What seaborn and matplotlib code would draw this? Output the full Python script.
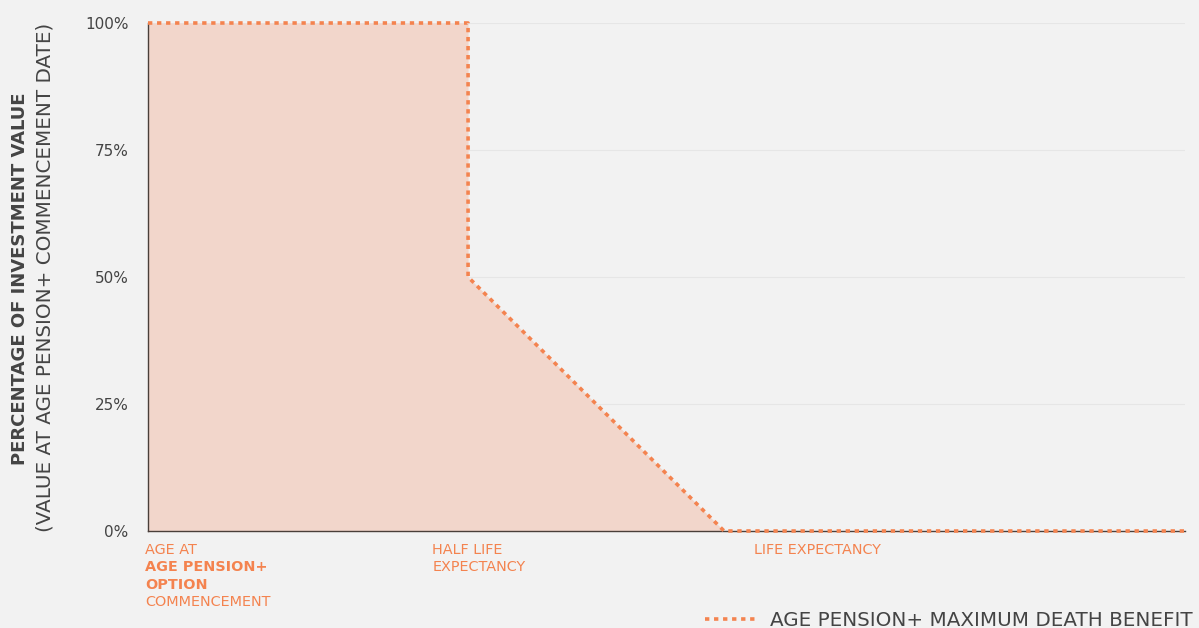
import numpy as np
import pandas as pd
import matplotlib.pyplot as plt
import seaborn as sns

# step points of the death-benefit line (x in arbitrary time units)
time_pts = [0, 5, 5, 9, 16.2]
benefit_pct = [100, 100, 50, 0, 0]

y_ticks = [0, 25, 50, 75, 100]
y_tick_labels = ["0%", "25%", "50%", "75%", "100%"]

# x-axis milestone labels: (x position, lines, bold flags)
milestone_x = [-0.05, 4.44, 9.47]
milestone_lines = [
    ["AGE AT", "AGE PENSION+", "OPTION", "COMMENCEMENT"],
    ["HALF LIFE", "EXPECTANCY"],
    ["LIFE EXPECTANCY"],
]
milestone_bold = [
    [False, True, True, False],
    [False, False],
    [False],
]

legend_label = "AGE PENSION+ MAXIMUM DEATH BENEFIT"

orange = "#f4834f"
fill_col = "#f2d6cb"
bg = "#f2f2f2"
text_col = "#444444"

sns.set_theme(style="white", rc={"figure.facecolor": bg, "axes.facecolor": bg})
plt.rcParams["font.family"] = ["DejaVu Sans"]

df = pd.DataFrame({"t": time_pts, "pct": benefit_pct})

fig = plt.figure(figsize=(11.99, 6.28), dpi=100)
ax = fig.add_axes([148 / 1199, 97 / 628, 1037 / 1199, 508 / 628])

ax.fill_between(df["t"], df["pct"], 0, color=fill_col, lw=0, zorder=1)
sns.lineplot(data=df, x="t", y="pct", ax=ax, color=orange, lw=2.6,
             sort=False, estimator=None, label=legend_label, zorder=3,
             clip_on=False)
ax.lines[0].set_dashes([1.2, 1.3])
ax.lines[0].set_dash_capstyle("butt")

ax.set_xlim(0, 16.2)
ax.set_ylim(0, 100)
ax.set_yticks(y_ticks)
ax.set_yticklabels(y_tick_labels, color=text_col, fontsize=11)
ax.set_xticks([])
ax.tick_params(axis="y", length=0, pad=14)
ax.yaxis.grid(True, color="#e6e6e6", lw=0.8)
ax.set_axisbelow(True)

for s in ["top", "right"]:
    ax.spines[s].set_visible(False)
for s in ["left", "bottom"]:
    ax.spines[s].set_color("#4a3f3a")
    ax.spines[s].set_linewidth(1.0)
    ax.spines[s].set_zorder(2)

ax.set_xlabel("")
ax.set_ylabel("")

# milestone labels under the axis
for xpos, lines, bolds in zip(milestone_x, milestone_lines, milestone_bold):
    for i, (txt, b) in enumerate(zip(lines, bolds)):
        ax.annotate(txt, xy=(xpos, 0), xycoords="data",
                    xytext=(0, -19 - i * 17.3), textcoords="offset pixels",
                    ha="left", va="center", color=orange, fontsize=10.4,
                    fontweight="bold" if b else "normal",
                    annotation_clip=False)

# two-line y label
fig.text(20 / 1199, 1 - 279 / 628, "PERCENTAGE OF INVESTMENT VALUE",
         rotation=90, ha="center", va="center", color=text_col,
         fontsize=13, fontweight="bold")
fig.text(45 / 1199, 1 - 277 / 628, "(VALUE AT AGE PENSION+ COMMENCEMENT DATE)",
         rotation=90, ha="center", va="center", color=text_col,
         fontsize=14.3)

ax.get_legend().remove()
handles, labels = ax.get_legend_handles_labels()
fig.legend(handles, labels, loc="lower right", bbox_to_anchor=(1.0, -0.012),
           frameon=False, fontsize=14.3, handlelength=2.6, handletextpad=0.7,
           labelcolor=text_col, borderpad=0.2, borderaxespad=0.1)

fig.savefig("out.png", dpi=100, facecolor=bg)
